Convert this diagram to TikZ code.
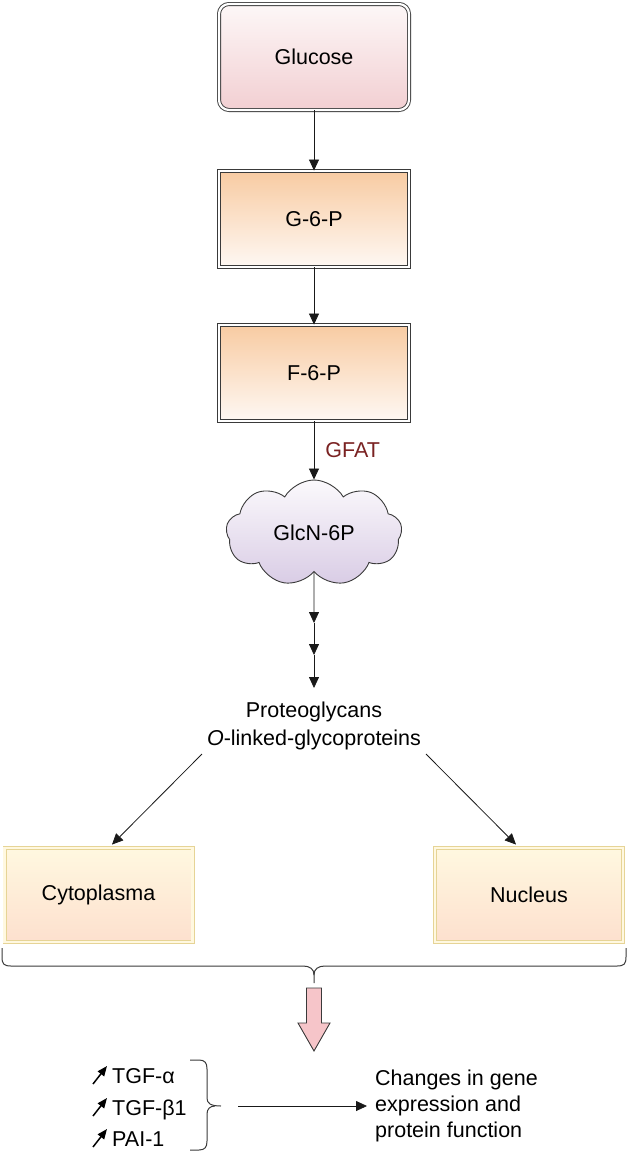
\documentclass[tikz,border=0pt]{standalone}
\usepackage{fontspec}
\setmainfont{Liberation Sans}
\usetikzlibrary{shapes.symbols,arrows.meta,calc}
\definecolor{edge}{HTML}{3A3A3A}
\definecolor{gluTop}{HTML}{FDF7F7}
\definecolor{gluBot}{HTML}{F2CFD2}
\definecolor{gTop}{HTML}{F8CBA2}
\definecolor{gBot}{HTML}{FEF8F3}
\definecolor{cTop}{HTML}{FFF8E0}
\definecolor{cBot}{HTML}{FDE0CE}
\definecolor{cEdge}{HTML}{E6D496}
\definecolor{clTop}{HTML}{FBF9FC}
\definecolor{clBot}{HTML}{D9CCE5}
\definecolor{gfat}{HTML}{7A2222}
\definecolor{pink}{HTML}{F6C5C9}
\tikzset{
  stepbox/.style={rectangle, draw=edge, line width=0.9pt, double=white, double distance=2.2pt,
    minimum width=190pt, minimum height=96pt, inner sep=0pt, top color=gTop, bottom color=gBot},
  glubox/.style={stepbox, rounded corners=10pt, minimum height=106pt, top color=gluTop, bottom color=gluBot},
  compbox/.style={rectangle, draw=cEdge, line width=0.9pt, double=cTop, double distance=2.2pt,
    minimum width=188pt, minimum height=94pt, inner sep=0pt, top color=cTop, bottom color=cBot},
  cloudnode/.style={cloud, cloud puffs=9, cloud puff arc=120, cloud ignores aspect, draw=edge, line width=0.9pt,
    minimum width=176pt, minimum height=106pt, inner sep=0pt, top color=clTop, bottom color=clBot},
  arr/.style={draw=black!90, line width=0.8pt, -{Triangle[length=11pt,width=10pt]}},
  upicon/.style={draw=black, line width=1.5pt, -{Triangle[length=10pt,width=8pt]}},
  bracepath/.style={draw=edge, line width=1pt},
  plain/.style={inner sep=0pt},
}
\begin{document}
\begin{tikzpicture}[x=1pt,y=-1pt,font=\fontsize{21.5}{28}\selectfont]
\useasboundingbox (0,0) rectangle (628,1154);
% main chain
\node[glubox] (glu) at (314,57) {Glucose};
\node[stepbox] (g6p) at (314,219) {G-6-P};
\node[stepbox] (f6p) at (314,373) {F-6-P};
\node[cloudnode] (glcn) at (314,533) {GlcN-6P};
\draw[arr] (glu) -- (g6p);
\draw[arr] (g6p) -- (f6p);
\draw[arr] (f6p) -- node[plain, anchor=west, xshift=11pt, text=gfat] (gfatlbl) {GFAT} (glcn);
\coordinate (c1) at (314,623);
\coordinate (c2) at (314,655);
\coordinate (c3) at (314,688);
\draw[arr] (glcn.south) -- (c1);
\draw[arr] (c1) -- (c2);
\draw[arr] (c2) -- (c3);
\node[plain, align=center] (pg) at (314,726) {Proteoglycans\\\textit{O}-linked-glycoproteins};
% compartments
\node[compbox] (cyto) at (98.5,895) {Cytoplasma};
\node[compbox] (nuc) at (529,895) {Nucleus};
\coordinate (pgL) at (202,754);
\coordinate (pgR) at (426,754);
\draw[arr] (pgL) -- ([xshift=13.5pt,yshift=3pt]cyto.north);
\draw[arr] (pgR) -- ([xshift=-13pt,yshift=3pt]nuc.north);
% big brace
\coordinate (brL) at (2,948);
\coordinate (brR) at (626,948);
\coordinate (brTip) at (314,983);
\draw[bracepath] (brL) -- (2,957) .. controls (2,964) and (4,966) .. (11,966) -- (303,966)
  .. controls (310,966) and (314,969) .. (314,975) -- (brTip);
\draw[bracepath] (brR) -- (626,957) .. controls (626,964) and (624,966) .. (617,966) -- (325,966)
  .. controls (318,966) and (314,969) .. (314,975);
% pink arrow
\draw[edge, line width=0.9pt, fill=pink, line join=miter]
  (306.5,988) -- (321.5,988) -- (321.5,1023) -- (330,1023) -- (314,1051) -- (298,1023) -- (306.5,1023) -- cycle;
% factors
\foreach \b/\t [count=\i] in {1083/{TGF-α},1115/{TGF-β1},1146/{PAI-1}}{
  \draw[upicon] (93,\b+1) -- (107,\b-17);
  \node[plain, anchor=base west] (f\i) at (112,\b) {\t};
}
\coordinate (bT) at (190,1060);
\coordinate (bB) at (190,1150);
\coordinate (bTip) at (221,1106);
\draw[bracepath] (bT) -- (199,1060) .. controls (205,1060) and (207,1063) .. (207,1069) -- (207,1098)
  .. controls (207,1103) and (210,1106) .. (bTip);
\draw[bracepath] (bB) -- (199,1150) .. controls (205,1150) and (207,1147) .. (207,1141) -- (207,1114)
  .. controls (207,1109) and (210,1106) .. (215,1106);
\node[plain, anchor=west, align=left, font=\fontsize{21.5}{26}\selectfont] (chg) at (375,1106)
  {Changes in gene\\expression and\\protein function};
\coordinate (ar0) at (238,1106);
\draw[arr] (ar0) -- ([xshift=-8pt]chg.west);
\end{tikzpicture}
\end{document}
